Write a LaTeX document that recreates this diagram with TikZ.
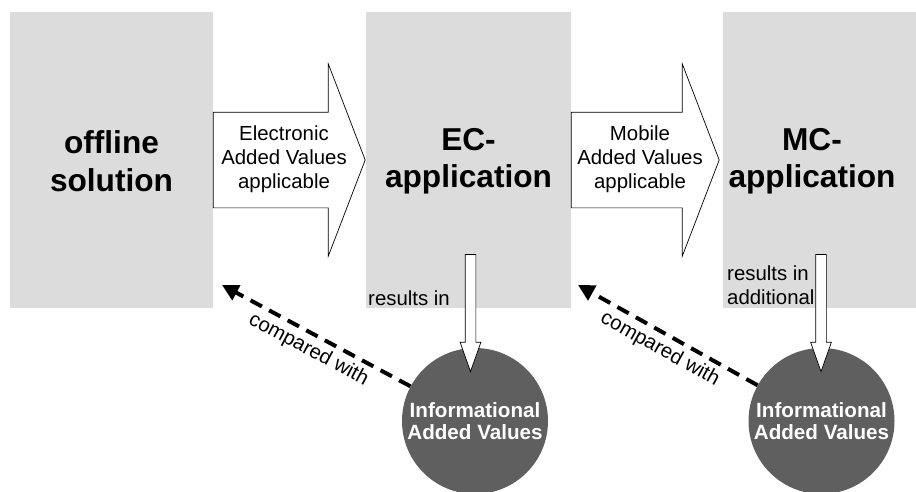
\documentclass[tikz,border=0pt]{standalone}
\usepackage{fontspec}
\setmainfont{Liberation Sans}
\usetikzlibrary{shapes.arrows,arrows.meta}
\definecolor{panelgray}{RGB}{220,220,220}
\definecolor{infogray}{RGB}{95,95,95}

\begin{document}
\begin{tikzpicture}[x=0.03cm, y=-0.03cm]
    % Stili
    \tikzstyle{stage}=[rectangle, fill=panelgray, inner sep=0pt, minimum height=8.88cm]
    \tikzstyle{stagelabel}=[font=\fontsize{27}{32}\selectfont\bfseries, align=center, inner sep=0pt]
    \tikzstyle{valuearrow}=[single arrow, draw=black, fill=white, line width=0.6pt, inner xsep=0pt, inner ysep=1.425cm, minimum width=5.76cm, single arrow head extend=1.455cm, single arrow tip angle=138]
    \tikzstyle{valuetext}=[font=\fontsize{17.4}{20.5}\selectfont, align=center, inner sep=0pt]
    \tikzstyle{infocircle}=[circle, fill=infogray, text=white, minimum size=4.38cm, inner sep=0pt, font=\fontsize{17.6}{19}\selectfont\bfseries, align=center]
    \tikzstyle{resultarrow}=[single arrow, draw=black, fill=white, line width=0.6pt, inner sep=0.15cm, minimum height=3.51cm, minimum width=0.6cm, single arrow head extend=0.15cm, single arrow tip angle=39, shape border rotate=270]
    \tikzstyle{resnote}=[font=\fontsize{17.4}{20.5}\selectfont, inner sep=0pt]
    \tikzstyle{cmparrow}=[line width=3.4pt, dash pattern=on 11pt off 7pt, -{Triangle[length=14pt,width=14pt]}]

    \useasboundingbox (0,0) rectangle (916,491);

    % Riquadri delle soluzioni
    \node[stage, minimum width=6.09cm] (offline) at (111.5,160) {};
    \node[stage, minimum width=6.15cm] (ec) at (468.5,160) {};
    \node[stage, minimum width=5.79cm] (mc) at (819.5,160) {};
    \node[stagelabel] (offlinelabel) at (111.5,161) {offline\\solution};
    \node[stagelabel] (eclabel) at (468.5,161) {EC-\\application};
    \node[stagelabel] (mclabel) at (812,161) {MC-\\application};

    % Frecce dei valori aggiunti
    \node[valuearrow, minimum height=4.56cm] (evarrow) at (280,160) {};
    \node[valuetext] (evtext) at (284,159) {Electronic\\Added Values\\applicable};
    \node[valuearrow, minimum height=4.44cm] (mvarrow) at (636,160) {};
    \node[valuetext] (mvtext) at (640,159) {Mobile\\Added Values\\applicable};

    % Valori informativi
    \node[infocircle] (info1) at (475,421) {Informational\\Added Values};
    \node[infocircle] (info2) at (821.5,421) {Informational\\Added Values};

    % Risultati
    \node[resnote, anchor=base west] (ecnote) at (368,305) {results in};
    \node[resnote, anchor=north west, align=left] (mcnote) at (727,265) {results in\\additional};
    \node[resultarrow] (ecresult) at (470.5,305.5) {};
    \node[resultarrow] (mcresult) at (821,305.5) {};

    % Confronti
    \coordinate (cmp1) at (222,285);
    \coordinate (cmp2) at (578,285);
    \draw[cmparrow] (info1) -- node[resnote, sloped, below, inner sep=4pt, pos=.5] {compared with} (cmp1);
    \draw[cmparrow] (info2) -- node[resnote, sloped, below, inner sep=4pt, pos=.5] {compared with} (cmp2);
\end{tikzpicture}
\end{document}
